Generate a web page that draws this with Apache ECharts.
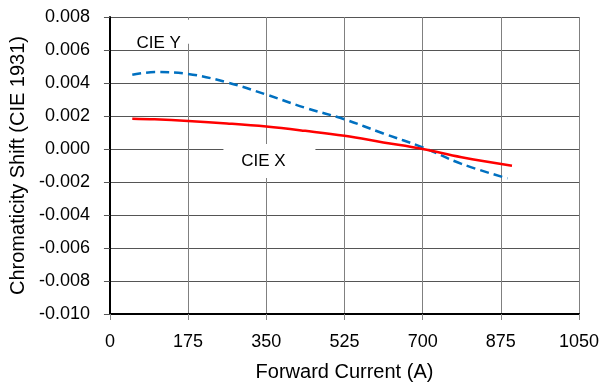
<!DOCTYPE html>
<html><head><meta charset="utf-8">
<script src="https://cdn.jsdelivr.net/npm/echarts@6/dist/echarts.min.js"></script>
<style>html,body{margin:0;padding:0;background:#fff}#c{width:603px;height:387px}</style>
</head><body><div id="c"></div>
<script>
var xTicks = [0, 175, 350, 525, 700, 875, 1050];
var cieXCurrent = [50, 100, 175, 262, 350, 437, 525, 612, 700, 787, 900];
var cieXShift = [0.00184, 0.00180, 0.00170, 0.00155, 0.00136, 0.00110, 0.00080, 0.00040, 0.00000, -0.00050, -0.00101];
var cieYCurrent = [50, 100, 175, 262, 350, 437, 525, 612, 700, 787, 890];
var cieYShift = [0.00450, 0.00466, 0.00455, 0.00404, 0.00330, 0.00250, 0.00180, 0.00094, 0.00010, -0.00090, -0.00178];
var labelNames = ['CIE X', 'CIE Y'];

function pairs(xs, ys){ return xs.map(function(x,i){ return [x, ys[i]]; }); }

var chart = echarts.init(document.getElementById('c'));
var font = 'Liberation Sans, Arial, sans-serif';
chart.setOption({
  animation: false,
  grid: {left: 108, right: 24, top: 17, bottom: 71, containLabel: false},
  xAxis: {
    type: 'value', min: 0, max: 1050, interval: 175,
    axisLine: {show: true, onZero: false, lineStyle: {color: '#000', width: 2}},
    axisTick: {show: true, length: 6, lineStyle: {color: '#888'}},
    axisLabel: {color: '#000', fontSize: 18, fontFamily: font, margin: 19,
      formatter: function(v){ return String(Math.round(v)); }},
    splitLine: {show: true, lineStyle: {color: '#808080', width: 1}},
    name: 'Forward Current (A)', nameLocation: 'middle', nameGap: 48,
    nameTextStyle: {color: '#000', fontSize: 20, fontFamily: font}
  },
  yAxis: {
    type: 'value', min: -0.010, max: 0.008, interval: 0.002,
    axisLine: {show: true, onZero: false, lineStyle: {color: '#000', width: 2}},
    axisTick: {show: true, length: 6, lineStyle: {color: '#555'}},
    axisLabel: {color: '#000', fontSize: 18, fontFamily: font, margin: 20,
      formatter: function(v){ var r = Math.round(v*1000)/1000; if (r === 0) r = 0; return r.toFixed(3); }},
    splitLine: {show: true, lineStyle: {color: '#555', width: 1}},
    name: 'Chromaticity Shift (CIE 1931)', nameLocation: 'middle', nameGap: 75,
    nameTextStyle: {color: '#000', fontSize: 20, fontFamily: font}
  },
  series: [
    {
      name: labelNames[0], type: 'line', smooth: 0.4, symbol: 'none',
      data: pairs(cieXCurrent, cieXShift),
      lineStyle: {color: '#FF0000', width: 2.5}, z: 3,
      markPoint: {
        symbol: 'rect', symbolSize: [92, 34], silent: true,
        itemStyle: {color: '#fff'},
        label: {show: true, formatter: labelNames[0], color: '#000', fontSize: 17, fontFamily: font, offset: [-6, 0]},
        data: [{coord: [357, -0.00073]}]
      }
    },
    {
      name: labelNames[1], type: 'line', smooth: 0.4, symbol: 'none',
      data: pairs(cieYCurrent, cieYShift),
      lineStyle: {color: '#0070C0', width: 2.5, type: [9, 5]}, z: 2,
      markPoint: {
        symbol: 'rect', symbolSize: [92, 24], silent: true,
        itemStyle: {color: '#fff'},
        label: {show: true, formatter: labelNames[1], color: '#000', fontSize: 17, fontFamily: font, offset: [0, 11]},
        data: [{coord: [109, 0.00710]}]
      }
    }
  ]
});
</script></body></html>
